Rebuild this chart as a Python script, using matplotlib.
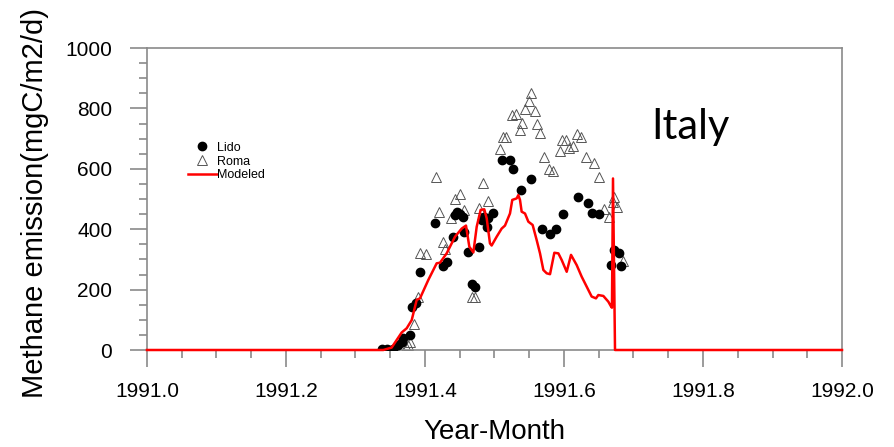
import numpy as np
import matplotlib
matplotlib.use('Agg')
import matplotlib.pyplot as plt
from matplotlib.ticker import MultipleLocator, FormatStrFormatter

plt.rcParams['font.family'] = ['Liberation Sans', 'DejaVu Sans']
plt.rcParams['xtick.major.size'] = 12
plt.rcParams['ytick.major.size'] = 12
plt.rcParams['xtick.minor.size'] = 5.5
plt.rcParams['ytick.minor.size'] = 5.5
plt.rcParams['xtick.major.pad'] = 11
plt.rcParams['ytick.major.pad'] = 13
plt.rcParams['xtick.labelsize'] = 15
plt.rcParams['ytick.labelsize'] = 15

# Lido observations (black dots)
lido_x = [1991.3377, 1991.3449, 1991.3544, 1991.3616, 1991.3665, 1991.3688, 1991.3784,
          1991.3809, 1991.3871, 1991.3928, 1991.4144, 1991.4255, 1991.4312, 1991.4399,
          1991.4432, 1991.4465, 1991.4504, 1991.4542, 1991.4561, 1991.4614, 1991.4672,
          1991.4719, 1991.4781, 1991.4816, 1991.4849, 1991.4888, 1991.4911, 1991.4974,
          1991.5112, 1991.5223, 1991.5271, 1991.5381, 1991.5525, 1991.5688, 1991.5799,
          1991.5885, 1991.5990, 1991.6206, 1991.6341, 1991.6403, 1991.6508, 1991.6676,
          1991.6724, 1991.6796, 1991.6820]
lido_y = [4, 4, 4, 16, 28, 39, 50, 143, 157, 257, 422, 279, 292, 375, 447, 458, 452,
          442, 392, 326, 219, 210, 340, 430, 442, 408, 436, 455, 629, 629, 601, 530,
          566, 401, 384, 401, 452, 508, 486, 455, 452, 281, 331, 320, 278]

# Roma observations (open triangles)
roma_x = [1991.3720, 1991.3760, 1991.3784, 1991.3842, 1991.3895, 1991.3928, 1991.4014,
          1991.4154, 1991.4201, 1991.4255, 1991.4288, 1991.4374, 1991.4432, 1991.4504,
          1991.4561, 1991.4672, 1991.4719, 1991.4781, 1991.4839, 1991.4911, 1991.5079,
          1991.5127, 1991.5165, 1991.5247, 1991.5305, 1991.5367, 1991.5391, 1991.5439,
          1991.5496, 1991.5525, 1991.5583, 1991.5607, 1991.5655, 1991.5712, 1991.5789,
          1991.5846, 1991.5942, 1991.5967, 1991.6024, 1991.6076, 1991.6125, 1991.6183,
          1991.6240, 1991.6317, 1991.6432, 1991.6508, 1991.6580, 1991.6652, 1991.6709,
          1991.6724, 1991.6758, 1991.6845]
roma_y = [11, 16, 28, 86, 177, 320, 318, 574, 456, 357, 336, 436, 499, 516, 464, 174,
          174, 469, 552, 493, 666, 704, 704, 778, 783, 730, 753, 797, 826, 850, 791,
          748, 717, 640, 598, 594, 660, 697, 697, 668, 675, 715, 706, 638, 618, 572,
          466, 442, 491, 508, 475, 296]

# Modeled emission (red line)
mod_x = [1991.0, 1991.340, 1991.352, 1991.3665, 1991.3737, 1991.3809, 1991.3881,
         1991.3928, 1991.4048, 1991.4168, 1991.4216, 1991.4312, 1991.4432, 1991.4528,
         1991.4590, 1991.4638, 1991.4696, 1991.4744, 1991.4801, 1991.4853, 1991.4888,
         1991.4935, 1991.4959, 1991.5031, 1991.5103, 1991.5151, 1991.5223, 1991.5256,
         1991.5319, 1991.5343, 1991.5367, 1991.5391, 1991.5439, 1991.5487, 1991.5549,
         1991.5607, 1991.5655, 1991.5703, 1991.5751, 1991.5799, 1991.5861, 1991.5919,
         1991.5967, 1991.6039, 1991.6101, 1991.6183, 1991.6254, 1991.6326, 1991.6398,
         1991.6460, 1991.6494, 1991.6566, 1991.6638, 1991.6672, 1991.6690, 1991.6705,
         1991.6734, 1992.0]
mod_y = [0, 0, 8, 58, 72, 99, 166, 171, 232, 287, 289, 320, 375, 402, 412, 342, 323,
         408, 464, 466, 436, 353, 346, 375, 402, 412, 452, 497, 502, 513, 497, 458,
         452, 425, 414, 364, 320, 265, 254, 251, 322, 320, 298, 259, 315, 281, 243,
         210, 177, 171, 182, 179, 160, 146, 140, 568, 0, 0]

fig = plt.figure(figsize=(8.95, 4.47), dpi=100)
ax = fig.add_axes([0.1642, 0.217, 0.7766, 0.6756])

ax.plot(mod_x, mod_y, color='red', lw=1.8, clip_on=False, zorder=4, label='Modeled')
ax.plot(lido_x, lido_y, 'o', color='black', ms=6, zorder=3, label='Lido')
ax.plot(roma_x, roma_y, '^', mfc='none', mec='#555555', mew=0.7, ms=6.5, zorder=2,
        label='Roma')

ax.set_xlim(1991.0, 1992.0)
ax.set_ylim(0, 1000)

ax.xaxis.set_major_locator(MultipleLocator(0.2))
ax.xaxis.set_minor_locator(MultipleLocator(0.05))
ax.yaxis.set_major_locator(MultipleLocator(200))
ax.yaxis.set_minor_locator(MultipleLocator(50))
ax.xaxis.set_major_formatter(FormatStrFormatter('%.1f'))
ax.yaxis.set_major_formatter(FormatStrFormatter('%d'))

for s in ax.spines.values():
    s.set_color('#8a8a8a')
    s.set_linewidth(1.2)
ax.tick_params(which='both', direction='out', color='#8a8a8a', width=1.2,
               top=False, right=False)

ax.set_xlabel('Year-Month', fontsize=20, labelpad=13)
ax.set_ylabel('Methane emission(mgC/m2/d)', fontsize=21)
ax.yaxis.set_label_coords(-0.141, 0.486)

h, l = ax.get_legend_handles_labels()
order = [1, 2, 0]
ax.legend([h[i] for i in order], [l[i] for i in order], loc='upper left',
          bbox_to_anchor=(0.059, 0.69), frameon=False, fontsize=9,
          handlelength=2.3, handletextpad=0.0, labelspacing=0.15,
          borderpad=0, borderaxespad=0)

ax.text(0.725, 0.738, 'Italy', transform=ax.transAxes, fontsize=30,
        family=['Lato', 'DejaVu Sans'], ha='left', va='center')

fig.savefig('out.png', dpi=100)
